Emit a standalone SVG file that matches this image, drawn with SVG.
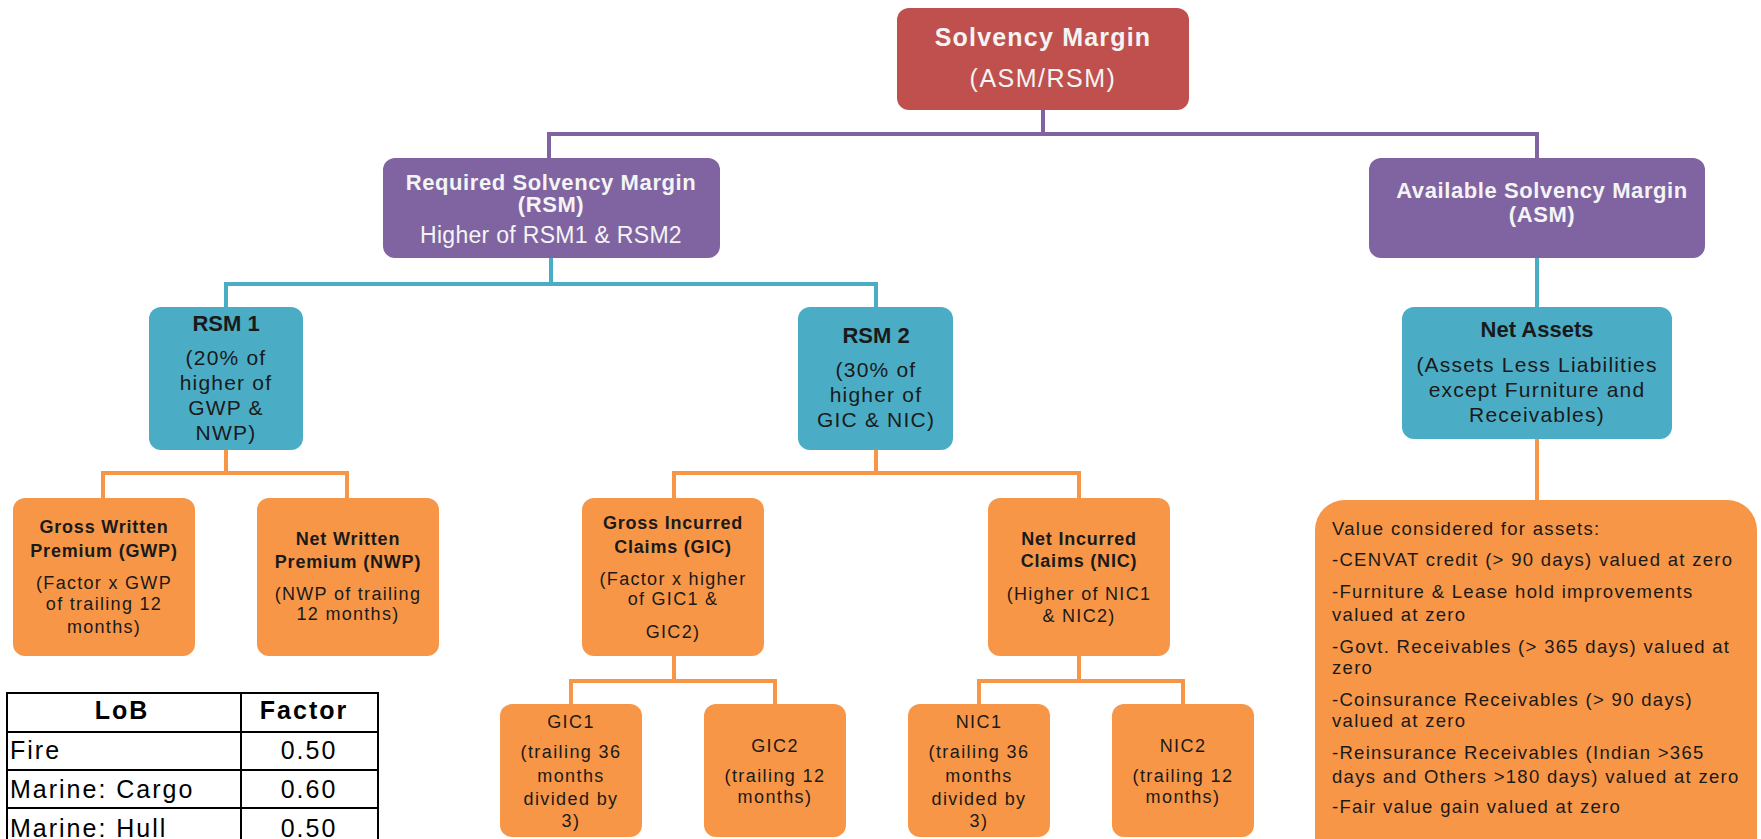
<svg xmlns="http://www.w3.org/2000/svg" width="1761" height="839" viewBox="0 0 1761 839">
<style>
text{font-family:"Liberation Sans",Arial,sans-serif;text-anchor:middle}
.red{fill:#c0504d}
.pur{fill:#8064a2}
.cy{fill:#4bacc6}
.or{fill:#f79646}
.t1{font-size:25px;font-weight:bold;fill:#f4f4f4;letter-spacing:1.2px}
.t1r{font-size:25px;fill:#f4f4f4;letter-spacing:1.5px}
.pb{font-size:22px;font-weight:bold;fill:#f4f4f4;letter-spacing:0.6px}
.pr{font-size:23px;fill:#f4f4f4;letter-spacing:0.3px}
.cb{font-size:22px;font-weight:bold;fill:#1a1a1a}
.cr{font-size:21px;fill:#1a1a1a;letter-spacing:1.2px}
.ob{font-size:18px;font-weight:bold;fill:#1a1a1a;letter-spacing:0.8px}
.orr{font-size:18px;fill:#1a1a1a;letter-spacing:1.3px}
.sm{font-size:18px;fill:#1a1a1a;letter-spacing:1.4px}
.big{font-size:18.5px;fill:#1a1a1a;letter-spacing:1.3px;text-anchor:start}
.tb{font-size:25px;fill:#000;letter-spacing:2px}
.tbb{font-size:25px;font-weight:bold;fill:#000;letter-spacing:2px}
.lp{stroke:#8064a2;stroke-width:4;fill:none}
.lc{stroke:#4bacc6;stroke-width:4;fill:none}
.lo{stroke:#f79646;stroke-width:4;fill:none}
.tl{stroke:#000;stroke-width:2;fill:none}
</style>
<rect width="1761" height="839" fill="#fff"/>
<g id="connectors">
<path class="lp" d="M1043 110V134M549 158V134H1537V158"/>
<path class="lc" d="M551 258V284M226 307V284H876V307M1537 258V307"/>
<path class="lo" d="M226 450V473M103 498V473H347V498M876 450V473M674 498V473H1079V498M1537 439V500"/>
<path class="lo" d="M674 656V681M571 704V681H775V704M1079 656V681M979 704V681H1183V704"/>
</g>
<g id="solvency-margin">
<rect class="red" x="897" y="8" width="292" height="102" rx="12"/>
<text class="t1" x="1043" y="46">Solvency Margin</text>
<text class="t1r" x="1043" y="87">(ASM/RSM)</text>
</g>
<g id="rsm">
<rect class="pur" x="383" y="158" width="337" height="100" rx="12"/>
<text class="pb" x="551" y="190">Required Solvency Margin</text>
<text class="pb" x="551" y="212">(RSM)</text>
<text class="pr" x="551" y="243">Higher of RSM1 &amp; RSM2</text>
</g>
<g id="asm">
<rect class="pur" x="1369" y="158" width="336" height="100" rx="12"/>
<text class="pb" x="1542" y="198">Available Solvency Margin</text>
<text class="pb" x="1542" y="222">(ASM)</text>
</g>
<g id="rsm1">
<rect class="cy" x="149" y="307" width="154" height="143" rx="12"/>
<text class="cb" x="226" y="331">RSM 1</text>
<text class="cr" x="226" y="365">(20% of</text>
<text class="cr" x="226" y="390">higher of</text>
<text class="cr" x="226" y="415">GWP &amp;</text>
<text class="cr" x="226" y="440">NWP)</text>
</g>
<g id="rsm2">
<rect class="cy" x="798" y="307" width="155" height="143" rx="12"/>
<text class="cb" x="876" y="343">RSM 2</text>
<text class="cr" x="876" y="377">(30% of</text>
<text class="cr" x="876" y="402">higher of</text>
<text class="cr" x="876" y="427">GIC &amp; NIC)</text>
</g>
<g id="net-assets">
<rect class="cy" x="1402" y="307" width="270" height="132" rx="12"/>
<text class="cb" x="1537" y="337">Net Assets</text>
<text class="cr" x="1537" y="372">(Assets Less Liabilities</text>
<text class="cr" x="1537" y="397">except Furniture and</text>
<text class="cr" x="1537" y="422">Receivables)</text>
</g>
<g id="gwp">
<rect class="or" x="13" y="498" width="182" height="158" rx="12"/>
<text class="ob" x="104" y="533">Gross Written</text>
<text class="ob" x="104" y="557">Premium (GWP)</text>
<text class="orr" x="104" y="589">(Factor x GWP</text>
<text class="orr" x="104" y="610">of trailing 12</text>
<text class="orr" x="104" y="633">months)</text>
</g>
<g id="nwp">
<rect class="or" x="257" y="498" width="182" height="158" rx="12"/>
<text class="ob" x="348" y="545">Net Written</text>
<text class="ob" x="348" y="568">Premium (NWP)</text>
<text class="orr" x="348" y="600">(NWP of trailing</text>
<text class="orr" x="348" y="620">12 months)</text>
</g>
<g id="gic">
<rect class="or" x="582" y="498" width="182" height="158" rx="12"/>
<text class="ob" x="673" y="529">Gross Incurred</text>
<text class="ob" x="673" y="553">Claims (GIC)</text>
<text class="orr" x="673" y="585">(Factor x higher</text>
<text class="orr" x="673" y="605">of  GIC1 &amp;</text>
<text class="orr" x="673" y="638">GIC2)</text>
</g>
<g id="nic">
<rect class="or" x="988" y="498" width="182" height="158" rx="12"/>
<text class="ob" x="1079" y="545">Net Incurred</text>
<text class="ob" x="1079" y="567">Claims (NIC)</text>
<text class="orr" x="1079" y="600">(Higher of NIC1</text>
<text class="orr" x="1079" y="622">&amp; NIC2)</text>
</g>
<g id="gic1">
<rect class="or" x="500" y="704" width="142" height="133" rx="12"/>
<text class="sm" x="571" y="728">GIC1</text>
<text class="sm" x="571" y="758">(trailing 36</text>
<text class="sm" x="571" y="782">months</text>
<text class="sm" x="571" y="805">divided by</text>
<text class="sm" x="571" y="827">3)</text>
</g>
<g id="gic2">
<rect class="or" x="704" y="704" width="142" height="133" rx="12"/>
<text class="sm" x="775" y="752">GIC2</text>
<text class="sm" x="775" y="782">(trailing 12</text>
<text class="sm" x="775" y="803">months)</text>
</g>
<g id="nic1">
<rect class="or" x="908" y="704" width="142" height="133" rx="12"/>
<text class="sm" x="979" y="728">NIC1</text>
<text class="sm" x="979" y="758">(trailing 36</text>
<text class="sm" x="979" y="782">months</text>
<text class="sm" x="979" y="805">divided by</text>
<text class="sm" x="979" y="827">3)</text>
</g>
<g id="nic2">
<rect class="or" x="1112" y="704" width="142" height="133" rx="12"/>
<text class="sm" x="1183" y="752">NIC2</text>
<text class="sm" x="1183" y="782">(trailing 12</text>
<text class="sm" x="1183" y="803">months)</text>
</g>
<g id="asset-values">
<rect class="or" x="1315" y="500" width="442" height="370" rx="30"/>
<text class="big" x="1332" y="535">Value considered for assets:</text>
<text class="big" x="1332" y="566">-CENVAT credit (&gt; 90 days) valued at zero</text>
<text class="big" x="1332" y="598">-Furniture &amp; Lease hold improvements</text>
<text class="big" x="1332" y="621">valued at zero</text>
<text class="big" x="1332" y="653">-Govt. Receivables (&gt; 365 days) valued at</text>
<text class="big" x="1332" y="674">zero</text>
<text class="big" x="1332" y="706">-Coinsurance Receivables  (&gt; 90 days)</text>
<text class="big" x="1332" y="727">valued at zero</text>
<text class="big" x="1332" y="759">-Reinsurance Receivables (Indian &gt;365</text>
<text class="big" x="1332" y="783">days and Others &gt;180 days) valued at zero</text>
<text class="big" x="1332" y="813">-Fair value gain valued at zero</text>
</g>
<g id="lob-table">
<path class="tl" d="M7 850V693H378V850M241 693V850M7 732H378M7 770H378M7 808H378"/>
<text class="tbb" x="122" y="719">LoB</text>
<text class="tbb" x="304" y="719">Factor</text>
<text class="tb" x="10" y="759" style="text-anchor:start">Fire</text>
<text class="tb" x="309" y="759">0.50</text>
<text class="tb" x="10" y="798" style="text-anchor:start">Marine: Cargo</text>
<text class="tb" x="309" y="798">0.60</text>
<text class="tb" x="10" y="837" style="text-anchor:start">Marine: Hull</text>
<text class="tb" x="309" y="837">0.50</text>
</g>
</svg>
